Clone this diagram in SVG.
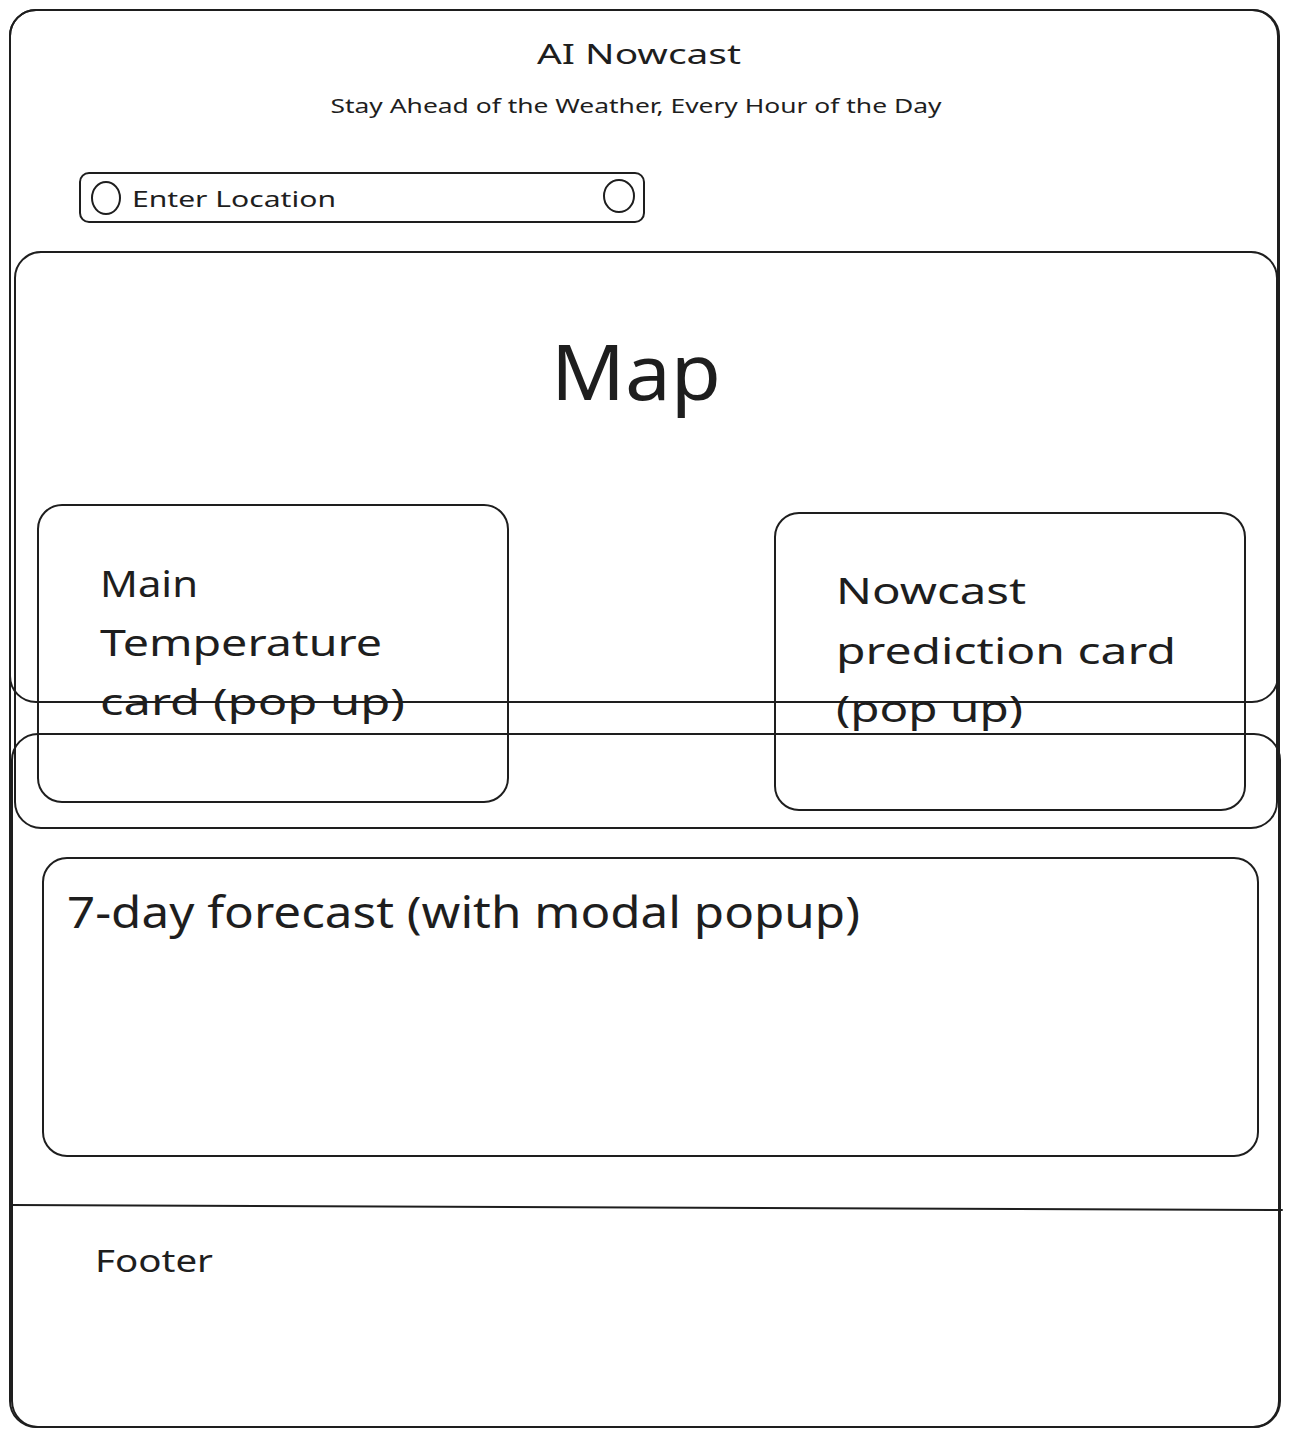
<svg xmlns="http://www.w3.org/2000/svg" width="1292" height="1437" viewBox="0 0 1292 1437">
<style>
.box{fill:none;stroke:#1e1e1e;stroke-width:2;stroke-linecap:round;stroke-linejoin:round}
.thin{fill:none;stroke:#1e1e1e;stroke-width:1.6}
.t{font-family:"Noto Sans","Liberation Sans",sans-serif;fill:#1e1e1e}
</style>
<rect width="1292" height="1437" fill="#ffffff"/>
<g id="page-frame">
<rect class="box" x="10" y="10" width="1269" height="1417" rx="26"/>
</g>
<g id="header">
<rect class="box" x="10" y="10" width="1268" height="692" rx="26"/>
<text class="t" x="639" y="64" font-size="28" text-anchor="middle" textLength="204" lengthAdjust="spacingAndGlyphs">AI Nowcast</text>
<text class="t" x="636" y="113" font-size="20" text-anchor="middle" textLength="611" lengthAdjust="spacingAndGlyphs">Stay Ahead of the Weather, Every Hour of the Day</text>
</g>
<g id="search-bar">
<rect class="box" x="80" y="173" width="564" height="49" rx="9"/>
<ellipse class="box" cx="106" cy="198" rx="14" ry="16"/>
<ellipse class="box" cx="619" cy="196" rx="15" ry="16"/>
<text class="t" x="132" y="207" font-size="21" textLength="204" lengthAdjust="spacingAndGlyphs">Enter Location</text>
</g>
<g id="bottom-section">
<rect class="box" x="12" y="734" width="1268" height="693" rx="26"/>
</g>
<g id="map">
<rect class="box" x="15" y="252" width="1262" height="576" rx="26"/>
<text class="t" x="636" y="400" font-size="76" text-anchor="middle" textLength="170" lengthAdjust="spacingAndGlyphs">Map</text>
</g>
<g id="main-temperature-card">
<rect class="box" x="38" y="505" width="470" height="297" rx="24"/>
<text class="t" font-size="36"><tspan x="100" y="597" textLength="98" lengthAdjust="spacingAndGlyphs">Main</tspan><tspan x="100" y="656" textLength="282" lengthAdjust="spacingAndGlyphs">Temperature</tspan><tspan x="100" y="715" textLength="305" lengthAdjust="spacingAndGlyphs">card (pop up)</tspan></text>
</g>
<g id="nowcast-card">
<rect class="box" x="775" y="513" width="470" height="297" rx="24"/>
<text class="t" font-size="36"><tspan x="836" y="604" textLength="190" lengthAdjust="spacingAndGlyphs">Nowcast</tspan><tspan x="836" y="664" textLength="340" lengthAdjust="spacingAndGlyphs">prediction card</tspan><tspan x="836" y="722" textLength="187" lengthAdjust="spacingAndGlyphs">(pop up)</tspan></text>
</g>
<g id="forecast">
<rect class="box" x="43" y="858" width="1215" height="298" rx="24"/>
<text class="t" x="67" y="928" font-size="44" textLength="793" lengthAdjust="spacingAndGlyphs">7-day forecast (with modal popup)</text>
</g>
<g id="connectors">
<path class="box" d="M10 1205 L1282 1210"/>
</g>
<g id="footer">
<text class="t" x="95" y="1272" font-size="30" textLength="118" lengthAdjust="spacingAndGlyphs">Footer</text>
</g>
</svg>
